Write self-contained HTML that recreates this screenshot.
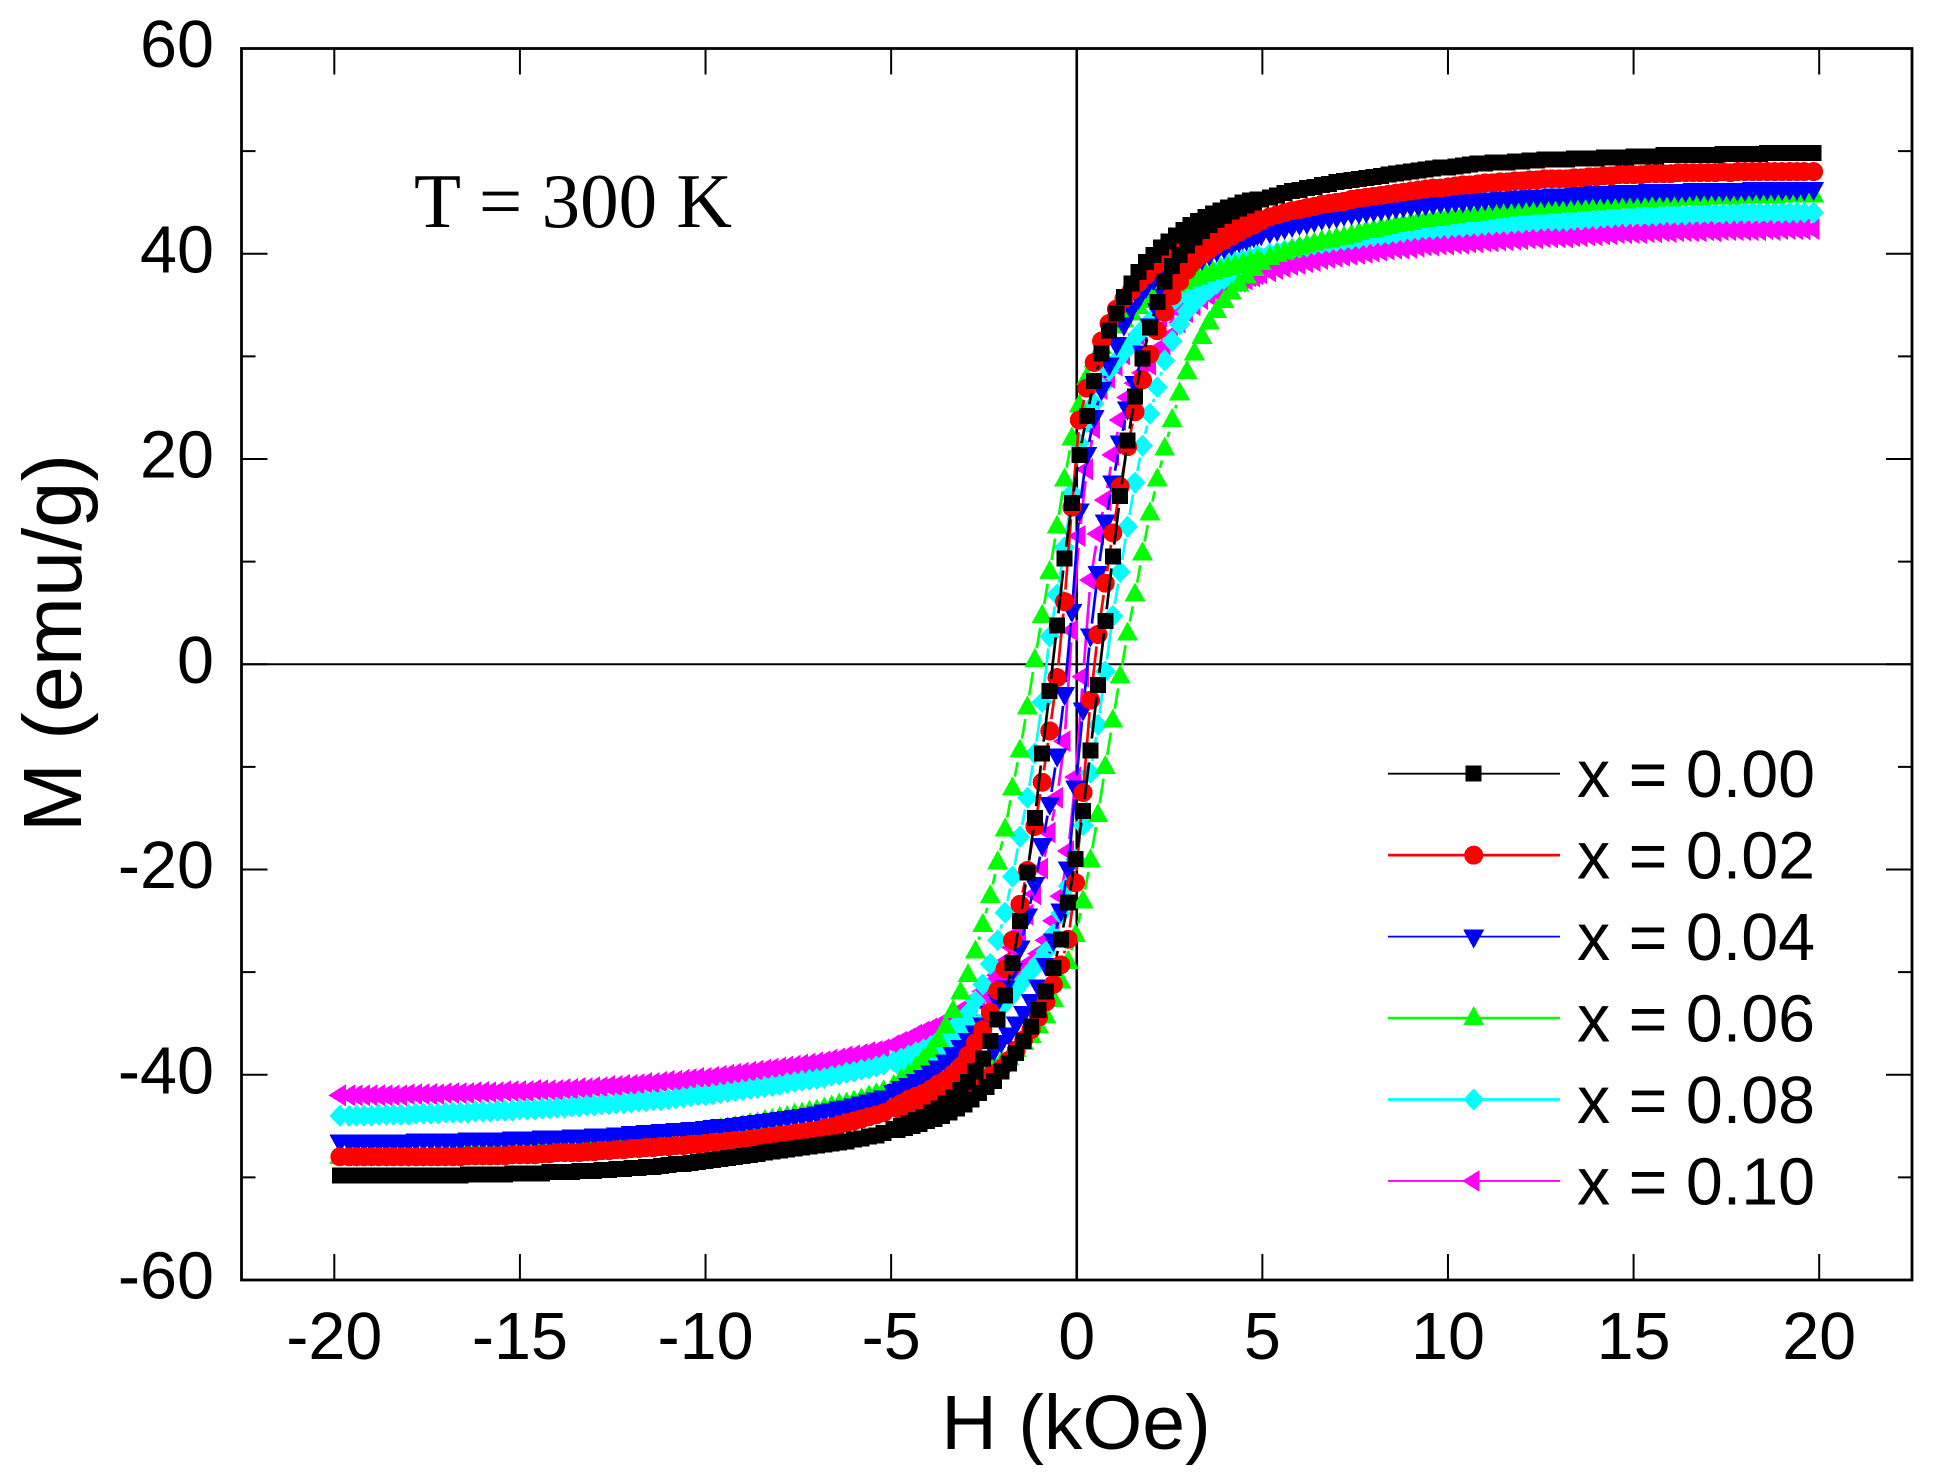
<!DOCTYPE html>
<html lang="en">
<head>
<meta charset="utf-8">
<title>M-H hysteresis loops at 300 K</title>
<style>
html,body{margin:0;padding:0;background:#fff;width:1933px;height:1481px;overflow:hidden}
svg{display:block}
text{font-family:"Liberation Sans",sans-serif;fill:#000}
</style>
</head>
<body>
<svg id="chart" xmlns="http://www.w3.org/2000/svg" width="1933" height="1481" viewBox="0 0 1933 1481">
<rect x="0" y="0" width="1933" height="1481" fill="#fff"/>
<g id="zero-lines"></g>
<g id="series-layer"></g>
<g id="axes"></g>
<text x="414" y="227" font-size="77" style="font-family:'Liberation Serif',serif">T = 300 K</text>
<text x="1076" y="1449" font-size="77" text-anchor="middle">H (kOe)</text>
<text transform="translate(81 643) rotate(-90)" font-size="83" text-anchor="middle">M (emu/g)</text>
<g id="legend"></g>
</svg>
<script>
const xTicks = [-20,-15,-10,-5,0,5,10,15,20];
const yTicks = [-60,-40,-20,0,20,40,60];
const yMinorTicks = [-50,-30,-10,10,30,50];

const hDown = [19.85,19.6,19.2,18.8,18.4,18,17.6,17.2,16.8,16.4,16,15.6,15.2,14.8,14.4,14,13.6,13.2,12.8,12.4,12,11.6,11.2,10.8,10.4,10,9.6,9.2,8.8,8.4,8,7.6,7.2,6.8,6.4,6,5.6,5.2,
4.87,4.67,4.47,4.27,4.07,3.87,3.67,3.47,3.27,3.07,2.87,2.67,2.47,2.27,2.07,1.87,1.67,1.47,1.27,1.07,0.87,0.67,0.47,0.27,0.07,-0.13,-0.33,-0.53,-0.73,-0.93,-1.13,-1.33,-1.53,-1.73,-1.93,-2.13,-2.33,-2.53,-2.73,-2.93,-3.13,-3.33,-3.53,-3.73,-3.93,-4.13,-4.33,-4.53,-4.73,-4.93,
-5.2,-5.6,-6,-6.4,-6.8,-7.2,-7.6,-8,-8.4,-8.8,-9.2,-9.6,-10,-10.4,-10.8,-11.2,-11.6,-12,-12.4,-12.8,-13.2,-13.6,-14,-14.4,-14.8,-15.2,-15.6,-16,-16.4,-16.8,-17.2,-17.6,-18,-18.4,-18.8,-19.2,-19.6,-19.85];
const hUp = [-19.4,-19,-18.6,-18.2,-17.8,-17.4,-17,-16.6,-16.2,-15.8,-15.4,-15,-14.6,-14.2,-13.8,-13.4,-13,-12.6,-12.2,-11.8,-11.4,-11,-10.6,-10.2,-9.8,-9.4,-9,-8.6,-8.2,-7.8,-7.4,-7,-6.6,-6.2,-5.8,-5.4,
-4.83,-4.63,-4.43,-4.23,-4.03,-3.83,-3.63,-3.43,-3.23,-3.03,-2.83,-2.63,-2.43,-2.23,-2.03,-1.83,-1.63,-1.43,-1.23,-1.03,-0.83,-0.63,-0.43,-0.23,-0.03,0.17,0.37,0.57,0.77,0.97,1.17,1.37,1.57,1.77,1.97,2.17,2.37,2.57,2.77,2.97,3.17,3.37,3.57,3.77,3.97,4.17,4.37,4.57,4.77,4.97,
5.4,5.8,6.2,6.6,7,7.4,7.8,8.2,8.6,9,9.4,9.8,10.2,10.6,11,11.4,11.8,12.2,12.6,13,13.4,13.8,14.2,14.6,15,15.4,15.8,16.2,16.6,17,17.4,17.8,18.2,18.6,19,19.4];

const m000Down = [49.8,49.8,49.8,49.8,49.7,49.7,49.7,49.6,49.6,49.6,49.6,49.5,49.5,49.4,49.4,49.3,49.3,49.2,49.2,49.1,49.0,48.9,48.9,48.8,48.6,48.4,48.3,48.1,47.9,47.7,47.5,47.3,47.1,46.8,46.5,46.2,45.9,45.5,
45.3,45.2,45.0,44.7,44.5,44.2,43.9,43.6,43.2,42.8,42.3,41.8,41.2,40.6,39.9,39.2,38.2,37.1,35.8,34.2,32.5,30.3,27.6,24.2,20.4,15.7,10.3,3.8,-2.6,-8.7,-15,-20.3,-25,-29.1,-32.3,-34.6,-36.7,-38.4,-39.7,-40.7,-41.5,-42.2,-42.8,-43.3,-43.7,-44.1,-44.4,-44.7,-45.0,-45.3,
-45.7,-46.0,-46.3,-46.6,-46.8,-47.0,-47.2,-47.4,-47.6,-47.8,-48.0,-48.2,-48.4,-48.6,-48.7,-48.9,-49.0,-49.1,-49.2,-49.3,-49.4,-49.5,-49.5,-49.6,-49.6,-49.6,-49.7,-49.7,-49.7,-49.8,-49.8,-49.8,-49.8,-49.8,-49.8,-49.8,-49.8,-49.8];
const m000Up = [-49.8,-49.8,-49.8,-49.8,-49.8,-49.8,-49.8,-49.8,-49.7,-49.7,-49.7,-49.6,-49.6,-49.5,-49.5,-49.4,-49.4,-49.3,-49.2,-49.1,-49,-48.8,-48.7,-48.5,-48.3,-48.1,-47.9,-47.7,-47.5,-47.3,-47.1,-46.9,-46.7,-46.5,-46.2,-45.9,
-45.4,-45.2,-45,-44.8,-44.5,-44.3,-44,-43.7,-43.3,-42.9,-42.4,-41.8,-41.2,-40.6,-39.7,-38.9,-37.9,-36.7,-35.3,-33.7,-31.9,-29.6,-26.8,-23.2,-19,-14.3,-8.4,-2,4.2,10.5,16.4,21.8,26.1,29.8,32.8,35.3,37.3,38.8,39.9,40.8,41.6,42.2,42.8,43.3,43.7,44.1,44.4,44.7,45,45.3,
45.7,46.1,46.4,46.7,47,47.2,47.4,47.6,47.8,48,48.2,48.4,48.5,48.7,48.8,48.9,49,49.1,49.2,49.2,49.3,49.3,49.4,49.4,49.5,49.5,49.6,49.6,49.6,49.6,49.7,49.7,49.7,49.8,49.8,49.8];

const m002Down = [48.0,48.0,48.0,48.0,48.0,48.0,47.9,47.9,47.9,47.9,47.8,47.8,47.7,47.7,47.6,47.5,47.4,47.3,47.3,47.2,47.1,47.0,46.9,46.8,46.7,46.5,46.4,46.2,46.0,45.8,45.6,45.4,45.1,44.9,44.6,44.3,44.0,43.6,
43.4,43.2,43.0,42.8,42.5,42.3,42.0,41.7,41.4,41.0,40.6,40.2,39.8,39.2,38.6,37.9,37.2,36.4,35.6,34.6,33.2,31.5,29.4,26.9,23.8,15.3,6.1,-1.3,-6.5,-11.5,-15.8,-20.1,-23.4,-26.9,-29.7,-31.8,-33.9,-35.6,-36.9,-38.1,-39.2,-39.9,-40.5,-40.9,-41.4,-41.8,-42.1,-42.4,-42.8,-43.2,
-43.7,-44.1,-44.5,-44.9,-45.2,-45.5,-45.7,-45.9,-46.1,-46.3,-46.4,-46.6,-46.7,-46.8,-46.9,-47.0,-47.1,-47.2,-47.3,-47.4,-47.5,-47.6,-47.6,-47.7,-47.8,-47.8,-47.9,-47.9,-47.9,-48.0,-48.0,-48.0,-48.0,-48.0,-48.0,-48.0,-48.0,-48.0];
const m002Up = [-48,-48,-48,-48,-48,-48,-48,-48,-47.9,-47.9,-47.9,-47.8,-47.8,-47.7,-47.6,-47.6,-47.5,-47.4,-47.3,-47.2,-47.1,-47,-46.9,-46.8,-46.6,-46.5,-46.4,-46.2,-46,-45.8,-45.6,-45.4,-45.1,-44.7,-44.3,-43.9,
-43.3,-43.1,-42.9,-42.7,-42.5,-42.3,-42.1,-41.9,-41.6,-41.4,-41.1,-40.7,-40.3,-39.9,-39.4,-38.6,-37.6,-36.6,-35.6,-34.4,-32.9,-31.2,-29.3,-26.8,-21.3,-12.5,-3.5,2.9,7.9,12.8,17.3,21.2,24.6,27.7,30.2,32.5,34.3,35.9,37.3,38.4,39.3,39.9,40.4,40.9,41.3,41.7,42.1,42.5,42.8,43.2,
43.8,44.2,44.5,44.8,45,45.3,45.5,45.7,45.9,46.1,46.3,46.4,46.6,46.7,46.9,47,47.1,47.2,47.3,47.3,47.4,47.5,47.6,47.7,47.7,47.8,47.8,47.9,47.9,47.9,48,48,48,48,48,48];

const m004Down = [46.3,46.3,46.3,46.3,46.3,46.2,46.2,46.2,46.2,46.1,46.1,46.1,46.0,46.0,45.9,45.9,45.8,45.7,45.7,45.6,45.5,45.4,45.3,45.2,45.1,45.0,44.9,44.7,44.6,44.4,44.2,44.0,43.8,43.5,43.2,42.9,42.5,42.1,
41.9,41.7,41.5,41.3,41.1,40.9,40.6,40.3,40.0,39.7,39.4,39.1,38.6,38.1,37.5,36.8,35.7,34.6,33.1,31.2,29.2,26.8,24.1,20.5,15,5.2,-2.9,-8.9,-13.6,-17.6,-21.4,-24.5,-27.6,-29.8,-31.5,-32.8,-34,-35.1,-35.9,-36.6,-37.3,-38,-38.7,-39.3,-39.8,-40.2,-40.6,-41,-41.3,-41.7,
-42.2,-42.6,-43.0,-43.3,-43.6,-43.9,-44.1,-44.3,-44.5,-44.7,-44.9,-45.0,-45.2,-45.3,-45.4,-45.5,-45.6,-45.7,-45.8,-45.9,-46.0,-46.0,-46.1,-46.1,-46.2,-46.2,-46.3,-46.3,-46.3,-46.4,-46.4,-46.4,-46.5,-46.5,-46.5,-46.5,-46.5,-46.5];
const m004Up = [-46.5,-46.5,-46.5,-46.5,-46.4,-46.4,-46.4,-46.4,-46.3,-46.3,-46.3,-46.2,-46.2,-46.1,-46.1,-46,-45.9,-45.9,-45.8,-45.7,-45.6,-45.5,-45.4,-45.3,-45.1,-45,-44.8,-44.6,-44.4,-44.2,-44,-43.8,-43.5,-43.2,-42.8,-42.4,
-41.6,-41.5,-41.4,-41.2,-40.9,-40.7,-40.5,-40.3,-40.1,-39.8,-39.5,-39,-38.3,-37.6,-36.8,-36.1,-35,-34,-32.8,-31.4,-29.3,-26.9,-24,-19.9,-12,-4.4,2.8,8.9,13.9,17.7,21.6,24.9,27.4,30.4,33,34.5,35.9,36.9,37.8,38.5,39,39.5,39.9,40.3,40.6,40.9,41.2,41.4,41.7,41.9,
42.3,42.7,43,43.4,43.6,43.9,44.1,44.3,44.5,44.7,44.8,45,45.1,45.2,45.3,45.4,45.5,45.6,45.6,45.7,45.8,45.9,45.9,46,46,46.1,46.1,46.1,46.2,46.2,46.2,46.2,46.3,46.3,46.3,46.3];

const m006Down = [45.7,45.7,45.7,45.6,45.6,45.6,45.5,45.5,45.4,45.4,45.3,45.3,45.2,45.1,45.0,44.9,44.8,44.7,44.6,44.5,44.4,44.3,44.1,43.9,43.8,43.6,43.4,43.2,42.9,42.6,42.3,42.0,41.6,41.3,41.0,40.6,40.1,39.6,
39.4,39.2,39.0,38.8,38.6,38.4,38.2,38.0,37.7,37.5,37.2,36.9,36.6,36.3,35.9,35.4,34.8,34.2,33.5,32.9,31.9,30.9,29.6,27.9,25.2,22,18,13.4,9,4.7,0.4,-4.2,-8.4,-12.1,-16.1,-19.3,-22.6,-25.4,-28,-30.3,-32,-33.8,-35.3,-36.6,-37.7,-38.5,-39.3,-40,-40.5,-41.1,
-41.6,-42.1,-42.6,-42.9,-43.3,-43.6,-43.9,-44.2,-44.5,-44.8,-45.1,-45.3,-45.5,-45.7,-45.9,-46.1,-46.3,-46.5,-46.6,-46.7,-46.9,-47.0,-47.1,-47.2,-47.3,-47.3,-47.4,-47.5,-47.5,-47.6,-47.6,-47.7,-47.7,-47.8,-47.8,-47.9,-47.9,-48.0];
const m006Up = [-47.9,-47.9,-47.8,-47.8,-47.7,-47.7,-47.6,-47.5,-47.5,-47.4,-47.4,-47.3,-47.2,-47.1,-47.1,-47,-46.8,-46.7,-46.6,-46.4,-46.2,-46,-45.8,-45.6,-45.4,-45.2,-45,-44.7,-44.4,-44.1,-43.8,-43.5,-43.1,-42.8,-42.4,-41.9,
-41.4,-41.3,-41.2,-41,-40.9,-40.8,-40.7,-40.5,-40.3,-40.1,-39.9,-39.7,-39.4,-39.1,-38.8,-38.4,-37.6,-36.9,-36.2,-35.3,-34.3,-32.7,-30.9,-29,-26.4,-23.1,-19.1,-14.7,-10,-5.5,-1.2,3,6.8,10.8,14.7,18,21,23.8,26.4,28.5,30.3,31.9,33.3,34.4,35.4,36.2,37,37.8,38.5,39.1,
39.9,40.4,40.8,41.2,41.5,41.8,42.2,42.5,42.8,43,43.3,43.5,43.7,43.8,44,44.2,44.4,44.5,44.6,44.7,44.8,44.9,45,45.1,45.2,45.2,45.3,45.4,45.4,45.5,45.5,45.6,45.6,45.6,45.7,45.7];

const m008Down = [44.0,44.0,44.0,44.0,44.0,44.0,43.9,43.9,43.9,43.8,43.8,43.7,43.7,43.6,43.5,43.4,43.3,43.2,43.2,43.1,43.0,42.9,42.8,42.7,42.6,42.5,42.4,42.3,42.1,41.9,41.7,41.5,41.3,41.1,40.9,40.6,40.3,40.0,
39.8,39.6,39.4,39.2,39,38.6,38.1,37.6,37.1,36.7,36.2,35.6,35,34.4,33.8,33,32.2,31.2,30.4,29.6,28.6,27,25.4,23.6,21.5,16.7,11.4,6.8,2.7,-3.7,-8.7,-13,-16.8,-20.7,-24.2,-26.9,-29.2,-31.2,-32.8,-34,-34.9,-35.5,-36.1,-36.7,-37.2,-37.5,-37.8,-38.1,-38.4,-38.7,
-39.0,-39.4,-39.7,-40.0,-40.3,-40.5,-40.7,-41.0,-41.2,-41.4,-41.6,-41.8,-42.0,-42.1,-42.3,-42.5,-42.6,-42.7,-42.8,-42.9,-43.0,-43.1,-43.2,-43.3,-43.4,-43.5,-43.5,-43.6,-43.7,-43.7,-43.8,-43.8,-43.9,-43.9,-43.9,-44.0,-44.0,-44.0];
const m008Up = [-44,-44,-43.9,-43.9,-43.8,-43.8,-43.7,-43.7,-43.6,-43.6,-43.5,-43.4,-43.4,-43.3,-43.2,-43.1,-43,-42.9,-42.8,-42.6,-42.5,-42.4,-42.2,-42,-41.9,-41.7,-41.5,-41.3,-41.1,-40.8,-40.6,-40.4,-40.1,-39.8,-39.5,-39.2,
-38.9,-38.7,-38.5,-38.3,-38.1,-37.9,-37.5,-37.1,-36.7,-36.2,-35.7,-35.1,-34.7,-34.2,-33.4,-32.6,-31.7,-30.8,-29.9,-29,-28,-26.3,-24.3,-21.6,-19,-15.7,-10.6,-5.9,-0.7,4.7,9,13.4,17.7,21.3,24.4,27,29.6,31.5,33.1,34.4,35.2,35.9,36.5,37.1,37.5,38,38.4,38.8,39.2,39.6,
40.1,40.4,40.7,41,41.2,41.4,41.6,41.8,42,42.2,42.4,42.5,42.6,42.7,42.8,42.9,43,43.1,43.2,43.2,43.3,43.4,43.5,43.6,43.7,43.7,43.8,43.8,43.9,43.9,43.9,44,44,44,44,44];

const m010Down = [42.4,42.4,42.4,42.3,42.3,42.3,42.3,42.2,42.2,42.2,42.1,42.1,42.0,42.0,41.9,41.8,41.7,41.6,41.6,41.5,41.4,41.3,41.2,41.1,41.0,40.9,40.8,40.7,40.5,40.4,40.2,40.0,39.8,39.6,39.3,39.0,38.7,38.3,
38,37.8,37.5,37.3,37,36.8,36.5,36.2,35.9,35.5,35.1,34.7,34.3,33.9,33.4,32.8,32.1,31.3,30.2,29.1,27.9,26.8,23,19,12.5,3.3,-7.5,-13,-16.4,-19.9,-22.4,-24.4,-26.1,-27.6,-29,-30.3,-31.1,-31.9,-32.6,-33.3,-33.8,-34.3,-34.8,-35.2,-35.5,-35.8,-36.1,-36.5,-36.8,-37.1,
-37.5,-37.8,-38.1,-38.4,-38.7,-38.9,-39.1,-39.3,-39.5,-39.7,-39.9,-40.1,-40.3,-40.4,-40.6,-40.7,-40.8,-41.0,-41.1,-41.2,-41.3,-41.4,-41.5,-41.5,-41.6,-41.6,-41.7,-41.7,-41.8,-41.8,-41.9,-41.9,-41.9,-42.0,-42.0,-42.0,-42.0,-42.0];
const m010Up = [-42,-42,-42,-42,-41.9,-41.9,-41.8,-41.8,-41.7,-41.7,-41.6,-41.6,-41.5,-41.5,-41.4,-41.3,-41.2,-41.1,-41,-40.9,-40.8,-40.6,-40.5,-40.3,-40.2,-40,-39.8,-39.6,-39.4,-39.2,-39,-38.8,-38.5,-38.2,-38,-37.7,
-37,-36.8,-36.5,-36.2,-35.9,-35.6,-35.3,-34.9,-34.4,-33.8,-33.3,-32.8,-32.3,-31.7,-31,-30.6,-30.2,-29.7,-29,-28.2,-26.9,-25,-22.6,-18.2,-11,-1.2,8.2,12.7,16,20.4,23.8,26,27.4,28.4,29.2,30.3,31.1,32.1,33.3,34.3,35,35.6,36,36.4,36.7,37,37.3,37.5,37.8,38.1,
38.5,38.9,39.2,39.5,39.7,39.9,40.1,40.3,40.5,40.6,40.8,40.9,41,41.1,41.2,41.3,41.4,41.5,41.6,41.6,41.7,41.8,41.9,42,42,42.1,42.2,42.2,42.2,42.3,42.3,42.3,42.3,42.4,42.4,42.4];

const seriesList = [
  {name:'x-0-10', label:'x = 0.10', color:'#ff00ff', shape:'left', lw:1.8, down:m010Down, up:m010Up},
  {name:'x-0-08', label:'x = 0.08', color:'#00ffff', shape:'diamond', lw:2.7, down:m008Down, up:m008Up},
  {name:'x-0-06', label:'x = 0.06', color:'#00ff00', shape:'up', lw:2.7, down:m006Down, up:m006Up},
  {name:'x-0-04', label:'x = 0.04', color:'#0000ff', shape:'down', lw:1.8, down:m004Down, up:m004Up},
  {name:'x-0-02', label:'x = 0.02', color:'#ff0000', shape:'circle', lw:2.7, down:m002Down, up:m002Up},
  {name:'x-0-00', label:'x = 0.00', color:'#000000', shape:'square', lw:1.8, down:m000Down, up:m000Up}
];

const NS = 'http://www.w3.org/2000/svg';
const plotLeft = 241.5, plotRight = 1912, plotTop = 48.5, plotBottom = 1280;
const xMin = -22.5, xMax = 22.5, yMin = -60, yMax = 60;
function xScale(h){ return plotLeft + (h - xMin) / (xMax - xMin) * (plotRight - plotLeft); }
function yScale(m){ return plotBottom - (m - yMin) / (yMax - yMin) * (plotBottom - plotTop); }

function addLine(parent, x1, y1, x2, y2, color, w){
  const el = document.createElementNS(NS, 'line');
  el.setAttribute('x1', x1); el.setAttribute('y1', y1);
  el.setAttribute('x2', x2); el.setAttribute('y2', y2);
  el.setAttribute('stroke', color); el.setAttribute('stroke-width', w);
  parent.appendChild(el);
  return el;
}
function markerPath(shape, x, y){
  const f = n => n.toFixed(1);
  if (shape === 'square') return `M${f(x-8)} ${f(y-8)}H${f(x+8)}V${f(y+8)}H${f(x-8)}Z`;
  if (shape === 'circle') return `M${f(x-9.5)} ${f(y)}A9.5 9.5 0 1 0 ${f(x+9.5)} ${f(y)}A9.5 9.5 0 1 0 ${f(x-9.5)} ${f(y)}Z`;
  if (shape === 'down') return `M${f(x-10.5)} ${f(y-7)}H${f(x+10.5)}L${f(x)} ${f(y+12)}Z`;
  if (shape === 'up') return `M${f(x-10.5)} ${f(y+7)}H${f(x+10.5)}L${f(x)} ${f(y-12)}Z`;
  if (shape === 'diamond') return `M${f(x)} ${f(y-11)}L${f(x+10.5)} ${f(y)}L${f(x)} ${f(y+11)}L${f(x-10.5)} ${f(y)}Z`;
  return `M${f(x+6)} ${f(y-11)}V${f(y+11)}L${f(x-11.5)} ${f(y)}Z`;
}
function addMarker(parent, shape, x, y, color){
  const el = document.createElementNS(NS, 'path');
  el.setAttribute('d', markerPath(shape, x, y));
  el.setAttribute('fill', color);
  el.setAttribute('shape-rendering', 'crispEdges');
  parent.appendChild(el);
  return el;
}
function drawBranch(group, hs, ms, s){
  const gap = 12;
  for (let i = 0; i < hs.length - 1 && i < ms.length - 1; i++){
    const x1 = xScale(hs[i]), y1 = yScale(ms[i]), x2 = xScale(hs[i+1]), y2 = yScale(ms[i+1]);
    const len = Math.hypot(x2 - x1, y2 - y1);
    if (len > 2 * gap + 1){
      const ux = (x2 - x1) / len, uy = (y2 - y1) / len;
      const seg = addLine(group, x1 + ux * gap, y1 + uy * gap, x2 - ux * gap, y2 - uy * gap, s.color, 2.7);
      
      
    }
  }
  for (let i = 0; i < hs.length && i < ms.length; i++){
    const mk = addMarker(group, s.shape, xScale(hs[i]), yScale(ms[i]), s.color);
    
    
  }
}

const zeroLayer = document.getElementById('zero-lines');
const zeroV = addLine(zeroLayer, xScale(0), plotTop, xScale(0), plotBottom, '#000', 2.6);


const zeroH = addLine(zeroLayer, plotLeft, yScale(0), plotRight, yScale(0), '#000', 2);



const seriesLayer = document.getElementById('series-layer');
seriesList.forEach(s => {
  const g = document.createElementNS(NS, 'g');
  
  
  seriesLayer.appendChild(g);
  drawBranch(g, hUp, s.up, s);
  drawBranch(g, hDown, s.down, s);
});

const axes = document.getElementById('axes');
const frame = document.createElementNS(NS, 'rect');
frame.setAttribute('x', plotLeft);
frame.setAttribute('y', plotTop);
frame.setAttribute('width', plotRight - plotLeft);
frame.setAttribute('height', plotBottom - plotTop);
frame.setAttribute('fill', 'none');
frame.setAttribute('stroke', '#000');
frame.setAttribute('stroke-width', 2.8);


axes.appendChild(frame);

function addText(parent, x, y, str, size, anchor){
  const el = document.createElementNS(NS, 'text');
  el.setAttribute('x', x);
  el.setAttribute('y', y);
  el.setAttribute('font-size', size);
  el.setAttribute('text-anchor', anchor);
  el.textContent = str;
  parent.appendChild(el);
  return el;
}
const majorLen = 26, minorLen = 14;
xTicks.forEach(t => {
  const x = xScale(t);
  const b = addLine(axes, x, plotBottom, x, plotBottom - majorLen, '#000', 2);
  
  
  const u = addLine(axes, x, plotTop, x, plotTop + majorLen, '#000', 2);
  
  
  const lab = addText(axes, x, 1359, String(t), 66.5, 'middle');
  
  
});
yTicks.forEach(t => {
  const y = yScale(t);
  const l = addLine(axes, plotLeft, y, plotLeft + majorLen, y, '#000', 2);
  
  
  const r = addLine(axes, plotRight, y, plotRight - majorLen, y, '#000', 2);
  
  
  const lab = addText(axes, 214, y + 18.5, String(t), 66.5, 'end');
  
  
});
yMinorTicks.forEach(t => {
  const y = yScale(t);
  const l = addLine(axes, plotLeft, y, plotLeft + minorLen, y, '#000', 2);
  
  
  const r = addLine(axes, plotRight, y, plotRight - minorLen, y, '#000', 2);
  
  
});

const legend = document.getElementById('legend');
[...seriesList].reverse().forEach((s, i) => {
  const g = document.createElementNS(NS, 'g');
  
  
  legend.appendChild(g);
  const y = 773.7 + i * 81.45;
  const ln = addLine(g, 1388, y, 1560, y, s.color, s.lw);
  
  
  const mk = addMarker(g, s.shape, 1473.7, y, s.color);
  
  
  const tx = addText(g, 1577, y + 23.5, s.label, 66.4, 'start');
  
  
});
</script>
</body>
</html>
